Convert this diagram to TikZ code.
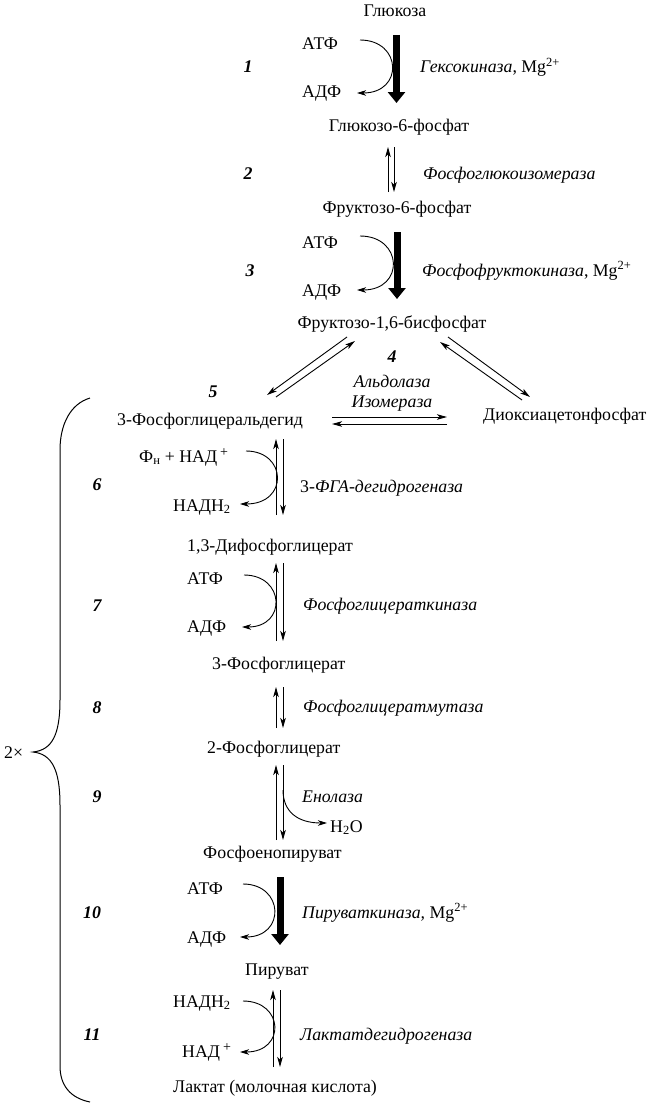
\documentclass[tikz,border=0pt]{standalone}
\usepackage{fontspec}
\setmainfont{Liberation Serif}
\usetikzlibrary{arrows.meta}
\newcommand{\supplus}{\raisebox{6pt}{\fontsize{14}{14}\selectfont +}}
\tikzset{
  txt/.style={font=\fontsize{17.8}{20}\selectfont, inner sep=0pt},
  enz/.style={font=\fontsize{17.8}{20}\selectfont\itshape, inner sep=0pt},
  num/.style={font=\fontsize{17.8}{20}\selectfont\bfseries\itshape, inner sep=0pt},
  arr/.style={line width=0.9pt, -{Stealth[length=10pt,width=5.5pt,inset=2.5pt]}},
  carr/.style={line width=0.9pt, -{Stealth[length=9pt,width=5.5pt,inset=2.5pt]}},
  thickarr/.style={line width=7pt, -{Triangle[length=11pt,width=17pt]}},
  brace/.style={line width=1pt}
}
\begin{document}
\begin{tikzpicture}[x=1pt,y=-1pt]
\useasboundingbox (0,0) rectangle (646,1108);
\fill[white] (0,0) rectangle (646,1108);

% ---------- metabolites ----------
\node[txt,anchor=base] (glc) at (395,17) {Глюкоза};
\node[txt,anchor=base] (g6p) at (399,131) {Глюкозо-6-фосфат};
\node[txt,anchor=base] (f6p) at (397,213) {Фруктозо-6-фосфат};
\node[txt,anchor=base] (fbp) at (392,328) {Фруктозо-1,6-бисфосфат};
\node[txt,anchor=base west] (gap) at (117,425) {3-Фосфоглицеральдегид};
\node[txt,anchor=base west] (dhap) at (483,420) {Диоксиацетонфосфат};
\node[txt,anchor=base west] (bpg) at (187,551) {1,3-Дифосфоглицерат};
\node[txt,anchor=base west] (pg3) at (212,669) {3-Фосфоглицерат};
\node[txt,anchor=base west] (pg2) at (207,753) {2-Фосфоглицерат};
\node[txt,anchor=base west] (pep) at (203,858) {Фосфоенопируват};
\node[txt,anchor=base west] (pyr) at (245,975) {Пируват};
\node[txt,anchor=base west] (lac) at (173,1092) {Лактат (молочная кислота)};

% ---------- cofactors ----------
\node[txt,anchor=base west] (atp1) at (302,50) {АТФ};
\node[txt,anchor=base west] (adp1) at (302,97) {АДФ};
\node[txt,anchor=base west] (atp3) at (302,248) {АТФ};
\node[txt,anchor=base west] (adp3) at (302,296) {АДФ};
\node[txt,anchor=base west] (pnad) at (139,462) {Ф\textsubscript{н} + НАД\,\supplus};
\node[txt,anchor=base west] (nadh6) at (173,511) {НАДН\textsubscript{2}};
\node[txt,anchor=base west] (atp7) at (187,584) {АТФ};
\node[txt,anchor=base west] (adp7) at (187,632) {АДФ};
\node[txt,anchor=base west] (h2o) at (330,832) {Н\textsubscript{2}О};
\node[txt,anchor=base west] (atp10) at (187,894) {АТФ};
\node[txt,anchor=base west] (adp10) at (187,943) {АДФ};
\node[txt,anchor=base west] (nadh11) at (173,1007) {НАДН\textsubscript{2}};
\node[txt,anchor=base west] (nad11) at (182,1057) {НАД\,\supplus};

% ---------- enzymes ----------
\node[txt,anchor=base west] (e1) at (420,73) {\textit{Гексокиназа}, Mg\textsuperscript{2+}};
\node[enz,anchor=base west] (e2) at (423,179) {Фосфоглюкоизомераза};
\node[txt,anchor=base west] (e3) at (422,276) {\textit{Фосфофруктокиназа}, Mg\textsuperscript{2+}};
\node[enz,anchor=base] (e4a) at (392,387) {Альдолаза};
\node[enz,anchor=base] (e4b) at (392,407) {Изомераза};
\node[txt,anchor=base west] (e6) at (300,492) {3-\textit{ФГА-дегидрогеназа}};
\node[enz,anchor=base west] (e7) at (303,610) {Фосфоглицераткиназа};
\node[enz,anchor=base west] (e8) at (303,712) {Фосфоглицератмутаза};
\node[enz,anchor=base west] (e9) at (302,802) {Енолаза};
\node[txt,anchor=base west] (e10) at (302,918) {\textit{Пируваткиназа,} Mg\textsuperscript{2+}};
\node[enz,anchor=base west] (e11) at (300,1040) {Лактатдегидрогеназа};

% ---------- step numbers ----------
\node[num,anchor=base] (n1) at (248,73) {1};
\node[num,anchor=base] (n2) at (248,179) {2};
\node[num,anchor=base] (n3) at (250,276) {3};
\node[num,anchor=base] (n4) at (392,362) {4};
\node[num,anchor=base] (n5) at (213,397) {5};
\node[num,anchor=base] (n6) at (97,490) {6};
\node[num,anchor=base] (n7) at (97,611) {7};
\node[num,anchor=base] (n8) at (97,713) {8};
\node[num,anchor=base] (n9) at (97,802) {9};
\node[num,anchor=base] (n10) at (92,918) {10};
\node[num,anchor=base] (n11) at (92,1040) {11};
\node[txt,anchor=base west] (twox) at (4,758) {2×};

% ---------- arrow end points ----------
\coordinate (t1a) at (396.5,35);  \coordinate (t1b) at (396.5,103);
\coordinate (u2a) at (388,192);   \coordinate (u2b) at (388,147);
\coordinate (d2a) at (394,147);   \coordinate (d2b) at (394,192);
\coordinate (t3a) at (397,232);   \coordinate (t3b) at (397,299);
\coordinate (l1a) at (347,337);   \coordinate (l1b) at (267,395);
\coordinate (l2a) at (276,397);   \coordinate (l2b) at (355,341);
\coordinate (r1a) at (448,337);   \coordinate (r1b) at (530,397);
\coordinate (r2a) at (522,400);   \coordinate (r2b) at (440,342);
\coordinate (h1a) at (332,417);   \coordinate (h1b) at (447,417);
\coordinate (h2a) at (447,424);   \coordinate (h2b) at (332,424);
\coordinate (u6a) at (276,515);   \coordinate (u6b) at (276,439);
\coordinate (d6a) at (283,439);   \coordinate (d6b) at (283,515);
\coordinate (u7a) at (276,641);   \coordinate (u7b) at (276,563);
\coordinate (d7a) at (283,563);   \coordinate (d7b) at (283,641);
\coordinate (u8a) at (276,728);   \coordinate (u8b) at (276,687);
\coordinate (d8a) at (283,687);   \coordinate (d8b) at (283,728);
\coordinate (u9a) at (276,840);   \coordinate (u9b) at (276,765);
\coordinate (d9a) at (283,765);   \coordinate (d9b) at (283,840);
\coordinate (t10a) at (280,877);  \coordinate (t10b) at (280,945);
\coordinate (u11a) at (273,1067); \coordinate (u11b) at (273,990);
\coordinate (d11a) at (280,990);  \coordinate (d11b) at (280,1067);

% ---------- main arrows ----------
\draw[thickarr] (t1a) -- (t1b);
\draw[arr] (u2a) -- (u2b);
\draw[arr] (d2a) -- (d2b);
\draw[thickarr] (t3a) -- (t3b);
\draw[arr] (l1a) -- (l1b);
\draw[arr] (l2a) -- (l2b);
\draw[arr] (r1a) -- (r1b);
\draw[arr] (r2a) -- (r2b);
\draw[arr] (h1a) -- (h1b);
\draw[arr] (h2a) -- (h2b);
\draw[arr] (u6a) -- (u6b);
\draw[arr] (d6a) -- (d6b);
\draw[arr] (u7a) -- (u7b);
\draw[arr] (d7a) -- (d7b);
\draw[arr] (u8a) -- (u8b);
\draw[arr] (d8a) -- (d8b);
\draw[arr] (u9a) -- (u9b);
\draw[arr] (d9a) -- (d9b);
\draw[thickarr] (t10a) -- (t10b);
\draw[arr] (u11a) -- (u11b);
\draw[arr] (d11a) -- (d11b);

% ---------- cofactor curves ----------
\coordinate (c1a) at (360,40);   \coordinate (c1b) at (357,93);
\draw[carr] (c1a) .. controls (402,40) and (404,93) .. (c1b);
\coordinate (c3a) at (360,236);  \coordinate (c3b) at (357,290);
\draw[carr] (c3a) .. controls (403,236) and (405,290) .. (c3b);
\coordinate (c6a) at (246,451);  \coordinate (c6b) at (240,504);
\draw[carr] (c6a) .. controls (287,451) and (289,504) .. (c6b);
\coordinate (c7a) at (244,575);  \coordinate (c7b) at (242,627);
\draw[carr] (c7a) .. controls (285,575) and (287,627) .. (c7b);
\coordinate (c9a) at (283,790);  \coordinate (c9b) at (327,823);
\draw[carr] (c9a) .. controls (283,812) and (298,823) .. (c9b);
\coordinate (c10a) at (243,884); \coordinate (c10b) at (240,937);
\draw[carr] (c10a) .. controls (284,884) and (286,937) .. (c10b);
\coordinate (c11a) at (243,1001); \coordinate (c11b) at (240,1052);
\draw[carr] (c11a) .. controls (284,1001) and (286,1052) .. (c11b);

% ---------- brace ----------
\coordinate (bt) at (90,398);
\coordinate (bm) at (33,752);
\coordinate (bb) at (90,1102);
\draw[brace] (bt) .. controls (70,404) and (60,425) .. (60,450) -- (60,700)
  .. controls (60,735) and (52,750) .. (bm)
  .. controls (52,754) and (60,770) .. (60,805) -- (60,1066)
  .. controls (60,1085) and (70,1098) .. (bb);
\end{tikzpicture}
\end{document}
